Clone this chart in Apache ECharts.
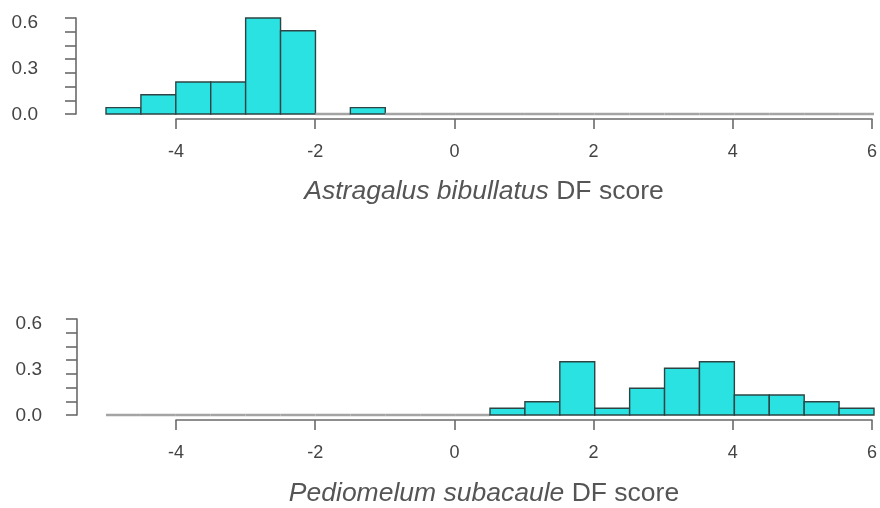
<!DOCTYPE html>
<html>
<head>
<meta charset="utf-8">
<title>DF score histograms</title>
<script src="https://cdn.jsdelivr.net/npm/echarts@6/dist/echarts.min.js"></script>
<style>
  html, body { margin: 0; padding: 0; background: #ffffff; }
  #chart { width: 880px; height: 508px; }
</style>
</head>
<body>
<div id="chart"></div>
<script>
// Histogram bin edges (width 0.5) shared by both panels
const breaks = [-5, -4.5, -4, -3.5, -3, -2.5, -2, -1.5, -1, -0.5, 0, 0.5, 1, 1.5, 2, 2.5, 3, 3.5, 4, 4.5, 5, 5.5, 6];

// Density of discriminant-function scores per bin
const astragalusDensity = [0.04, 0.12, 0.2, 0.2, 0.6, 0.52, 0, 0.04, 0, 0, 0, 0, 0, 0, 0, 0, 0, 0, 0, 0, 0, 0];
const pediomelumDensity = [0, 0, 0, 0, 0, 0, 0, 0, 0, 0, 0, 0.042, 0.083, 0.333, 0.042, 0.167, 0.292, 0.333, 0.125, 0.125, 0.083, 0.042];

// Axis tick labels
const xTickLabels = [-4, -2, 0, 2, 4, 6];
const yTickLabels = ['0.0', '0.3', '0.6'];

// Axis titles
const panelTitles = [
  { italic: 'Astragalus bibullatus', plain: ' DF score' },
  { italic: 'Pediomelum subacaule', plain: ' DF score' }
];

const FILL = '#2ae2e2';
const EDGE = '#2e4444';
const AXIS = '#6a6a6a';
const TEXT = '#444444';
const FONT = 'Liberation Sans, Arial, sans-serif';

function binData(density) {
  return density.map((d, i) => [breaks[i], breaks[i + 1], d]);
}

function renderBin(params, api) {
  const x0 = api.value(0), x1 = api.value(1), h = api.value(2);
  const pTop = api.coord([x0, h]);
  const pBase = api.coord([x1, 0]);
  if (h === 0) {
    return {
      type: 'line',
      shape: { x1: pTop[0], y1: pBase[1], x2: pBase[0], y2: pBase[1] },
      style: { stroke: '#a4a4a4', lineWidth: 2.5 }
    };
  }
  return {
    type: 'rect',
    shape: { x: pTop[0], y: pTop[1], width: pBase[0] - pTop[0], height: pBase[1] - pTop[1] },
    style: { fill: FILL, stroke: EDGE, lineWidth: 1.4 }
  };
}

// Panel geometry (pixels)
const panels = [
  { top: 18, labelTop: 23, axisY: 119, titleY: 192 },
  { top: 319, labelTop: 324, axisY: 420, titleY: 494 }
];
const plotLeft = 106, plotWidth = 768, plotHeight = 96;
const yAxisX = 76;

const grid = [], xAxis = [], yAxis = [], series = [];

panels.forEach((p, k) => {
  const g = k * 4;
  // data grid
  grid.push({ left: plotLeft, top: p.top, width: plotWidth, height: plotHeight });
  // x axis display grid (axis line spans the labelled ticks only)
  grid.push({ left: 176, top: p.top, width: 698, height: p.axisY - p.top });
  // y axis ticks grid
  grid.push({ left: yAxisX + (k === 1 ? 1 : 0), top: p.top, width: 10, height: plotHeight });
  // y axis labels grid
  grid.push({ left: yAxisX + (k === 1 ? 1 : 0), top: p.labelTop, width: 10, height: 92 });

  // data axes
  xAxis.push({ gridIndex: g, type: 'value', min: -5, max: 6, show: false });
  yAxis.push({ gridIndex: g, type: 'value', min: 0, max: 0.6, show: false });

  // x display axis
  xAxis.push({
    gridIndex: g + 1, type: 'value', min: xTickLabels[0], max: xTickLabels[xTickLabels.length - 1], interval: 2,
    axisLine: { show: true, lineStyle: { color: AXIS, width: 1.6 } },
    axisTick: { show: true, length: 10, lineStyle: { color: AXIS, width: 1.6 } },
    axisLabel: { show: true, color: TEXT, fontSize: 18, fontFamily: FONT, margin: 24,
      formatter: v => String(v) },
    splitLine: { show: false }
  });
  yAxis.push({ gridIndex: g + 1, type: 'value', show: false });

  // y ticks axis: seven equal steps between 0.0 and 0.6
  xAxis.push({ gridIndex: g + 2, type: 'value', show: false });
  yAxis.push({
    gridIndex: g + 2, type: 'value', min: 0, max: 7, interval: 1,
    axisLine: { show: true, lineStyle: { color: AXIS, width: 1.6 } },
    axisTick: { show: true, length: 11, lineStyle: { color: AXIS, width: 1.6 } },
    axisLabel: { show: false }, splitLine: { show: false }
  });

  // y labels axis
  xAxis.push({ gridIndex: g + 3, type: 'value', show: false });
  yAxis.push({
    gridIndex: g + 3, type: 'value', min: 0, max: 0.6, interval: 0.3,
    axisLine: { show: false }, axisTick: { show: false }, splitLine: { show: false },
    axisLabel: { show: true, color: TEXT, fontSize: 19, fontFamily: FONT, margin: 38 - (k === 1 ? 3 : 0),
      formatter: v => yTickLabels[Math.round(v / 0.3)] }
  });

  series.push({
    type: 'custom',
    xAxisIndex: g, yAxisIndex: g,
    clip: false,
    renderItem: renderBin,
    data: binData(k === 0 ? astragalusDensity : pediomelumDensity),
    z: 2
  });
});

const graphic = panels.map((p, k) => ({
  type: 'text',
  x: 484,
  y: p.titleY,
  style: {
    text: '{i|' + panelTitles[k].italic + '}{n|' + panelTitles[k].plain + '}',
    align: 'center',
    verticalAlign: 'middle',
    rich: {
      i: { fontStyle: 'italic', fontSize: 26.5, fontFamily: FONT, fill: '#555555', color: '#555555' },
      n: { fontSize: 26.5, fontFamily: FONT, fill: '#555555', color: '#555555' }
    }
  }
}));

const chart = echarts.init(document.getElementById('chart'), null, { renderer: 'canvas' });
chart.setOption({
  animation: false,
  backgroundColor: '#ffffff',
  grid, xAxis, yAxis, series, graphic
});
</script>
</body>
</html>
